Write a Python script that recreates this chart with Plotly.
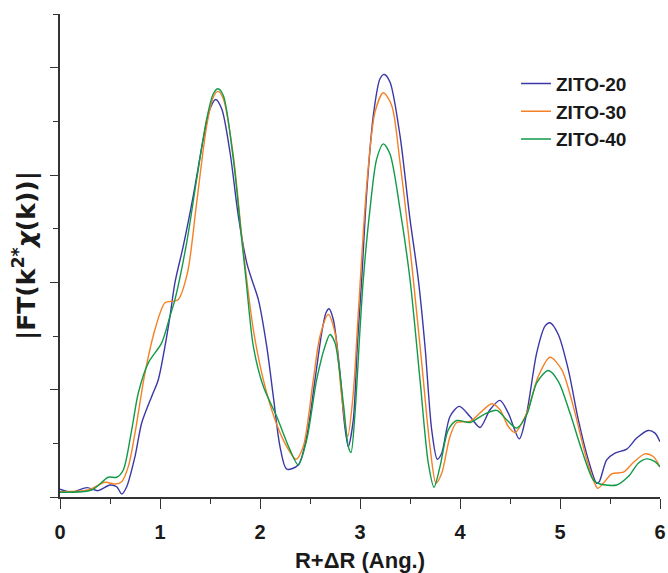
import plotly.graph_objects as go

# R + dR (Angstrom) and |FT| values (arbitrary units)
r_20 = [0, 0.117, 0.27, 0.38, 0.50, 0.567, 0.617, 0.667, 0.75, 0.817, 0.917, 0.983, 1.05, 1.10, 1.15,
        1.233, 1.333, 1.433, 1.50, 1.557, 1.617, 1.70, 1.783, 1.867, 1.917, 1.983, 2.067, 2.133, 2.20,
        2.267, 2.383, 2.467, 2.55, 2.617, 2.66, 2.69, 2.733, 2.80, 2.84, 2.883, 2.933, 2.973, 3.017,
        3.067, 3.133, 3.20, 3.243, 3.30, 3.40, 3.50, 3.583, 3.65, 3.717, 3.773, 3.817, 3.90, 3.993,
        4.10, 4.20, 4.30, 4.40, 4.483, 4.593, 4.667, 4.767, 4.85, 4.90, 4.983, 5.083, 5.183, 5.283,
        5.367, 5.393, 5.467, 5.55, 5.667, 5.767, 5.883, 5.95, 6.0]
v_20 = [0.072, 0.044, 0.087, 0.059, 0.112, 0.096, 0.028, 0.096, 0.377, 0.689, 0.937, 1.093, 1.405, 1.685, 2.0,
        2.339, 2.807, 3.336, 3.617, 3.704, 3.617, 3.212, 2.620, 2.184, 2.028, 1.841, 1.405, 0.937, 0.470,
        0.259, 0.299, 0.564, 1.093, 1.530, 1.717, 1.754, 1.654, 1.156, 0.720, 0.470, 0.720, 1.405, 2.028,
        2.838, 3.554, 3.897, 3.937, 3.866, 3.367, 2.589, 2.028, 1.405, 0.626, 0.352, 0.408, 0.750, 0.844,
        0.750, 0.648, 0.813, 0.900, 0.782, 0.542, 0.782, 1.343, 1.592, 1.623, 1.514, 1.187, 0.720, 0.346,
        0.128, 0.143, 0.346, 0.408, 0.446, 0.549, 0.620, 0.595, 0.514]

r_30 = [0, 0.283, 0.45, 0.55, 0.617, 0.683, 0.75, 0.85, 0.95, 1.05, 1.133, 1.183, 1.275, 1.367, 1.467,
        1.533, 1.58, 1.633, 1.733, 1.817, 1.867, 1.933, 2.033, 2.15, 2.267, 2.36, 2.433, 2.533, 2.60,
        2.683, 2.75, 2.817, 2.877, 2.933, 2.983, 3.067, 3.15, 3.233, 3.317, 3.40, 3.483, 3.533, 3.617,
        3.70, 3.76, 3.817, 3.90, 3.967, 4.10, 4.20, 4.317, 4.40, 4.483, 4.55, 4.667, 4.783, 4.90, 5.017,
        5.133, 5.25, 5.333, 5.377, 5.433, 5.517, 5.633, 5.733, 5.85, 5.933, 6.0]
v_30 = [0.050, 0.065, 0.137, 0.121, 0.143, 0.283, 0.595, 1.156, 1.561, 1.810, 1.825, 1.841, 2.09, 2.745, 3.461,
        3.726, 3.779, 3.710, 3.180, 2.433, 2.028, 1.561, 1.093, 0.720, 0.470, 0.352, 0.470, 1.093, 1.498,
        1.701, 1.530, 0.937, 0.564, 0.969, 1.717, 2.900, 3.586, 3.766, 3.648, 3.119, 2.464, 2.028, 1.250,
        0.470, 0.128, 0.221, 0.564, 0.694, 0.704, 0.782, 0.869, 0.813, 0.657, 0.601, 0.782, 1.124, 1.302, 1.187,
        0.844, 0.408, 0.159, 0.081, 0.128, 0.215, 0.231, 0.321, 0.402, 0.377, 0.280]

r_40 = [0, 0.317, 0.483, 0.567, 0.633, 0.717, 0.783, 0.883, 1.017, 1.10, 1.15, 1.267, 1.367, 1.467, 1.533,
        1.58, 1.633, 1.733, 1.817, 1.86, 1.933, 2.033, 2.167, 2.30, 2.383, 2.467, 2.567, 2.65, 2.70, 2.75,
        2.833, 2.883, 2.91, 2.95, 3.0, 3.033, 3.10, 3.167, 3.233, 3.30, 3.40, 3.50, 3.60, 3.683, 3.74,
        3.80, 3.883, 3.967, 4.10, 4.233, 4.367, 4.467, 4.567, 4.667, 4.767, 4.883, 4.983, 5.10, 5.217,
        5.333, 5.40, 5.567, 5.683, 5.783, 5.867, 5.95, 6.0]
v_40 = [0.044, 0.065, 0.184, 0.184, 0.252, 0.626, 0.969, 1.250, 1.436, 1.685, 1.841, 2.371, 2.963, 3.523, 3.757,
        3.804, 3.741, 3.150, 2.402, 2.028, 1.405, 1.031, 0.750, 0.439, 0.299, 0.533, 1.093, 1.405, 1.514, 1.436,
        0.876, 0.470, 0.414, 0.782, 1.561, 2.028, 2.682, 3.150, 3.290, 3.196, 2.682, 2.028, 1.093, 0.315, 0.091,
        0.283, 0.626, 0.713, 0.694, 0.766, 0.807, 0.720, 0.642, 0.766, 1.063, 1.178, 1.078, 0.782, 0.439,
        0.159, 0.121, 0.112, 0.190, 0.315, 0.355, 0.330, 0.280]

names = ["ZITO-20", "ZITO-30", "ZITO-40"]
colors = ["#3b38a6", "#f58025", "#119a48"]
x_ticks = [0, 1, 2, 3, 4, 5, 6]

fig = go.Figure()
for r, v, n, c in zip([r_20, r_30, r_40], [v_20, v_30, v_40], names, colors):
    fig.add_trace(go.Scatter(x=r, y=v, name=n, mode="lines",
                             line=dict(color=c, width=1.4, shape="spline", smoothing=0.8)))

font_b = dict(family="Liberation Sans, Arial, sans-serif", size=20, color="#1a1a1a", weight="bold")

fig.update_layout(
    width=668, height=573,
    margin=dict(l=60, r=8, t=14, b=76, autoexpand=False),
    paper_bgcolor="white", plot_bgcolor="white",
    showlegend=True,
    legend=dict(x=0.76, y=0.895, xanchor="left", yanchor="top",
                font=dict(family="Liberation Sans, Arial, sans-serif", size=19, color="#1a1a1a", weight="bold"),
                bgcolor="rgba(0,0,0,0)", borderwidth=0, tracegroupgap=0),
    xaxis=dict(range=[0, 6], tickvals=x_ticks, ticktext=[str(t) for t in x_ticks],
               automargin=False,
               showgrid=False, zeroline=False, showline=True, linecolor="#333333", linewidth=1.5,
               ticks="outside", ticklen=10, tickwidth=1.3, tickcolor="#333333",
               minor=dict(dtick=0.5, ticks="outside", ticklen=5, tickwidth=1.2, tickcolor="#333333"),
               tickfont=font_b, ticklabelstandoff=6,
               title=dict(text="R+ΔR (Ang.)", font=dict(family="Liberation Sans, Arial, sans-serif",
                                                        size=22, color="#1a1a1a", weight="bold"),
                          standoff=18)),
    yaxis=dict(range=[0, 4.5], dtick=1, tick0=0, showticklabels=False, automargin=False,
               showgrid=False, zeroline=False, showline=True, linecolor="#333333", linewidth=1.5,
               ticks="outside", ticklen=8, tickwidth=1.3, tickcolor="#333333",
               minor=dict(dtick=0.5, ticks="outside", ticklen=5, tickwidth=1.2, tickcolor="#333333"),
               title=dict(text="|FT(k<sup>2*</sup><i>χ</i>(k))|",
                          font=dict(family="DejaVu Sans, sans-serif", size=25,
                                    color="#1a1a1a", weight="bold"),
                          standoff=8)),
)

fig.write_html("out.html")
